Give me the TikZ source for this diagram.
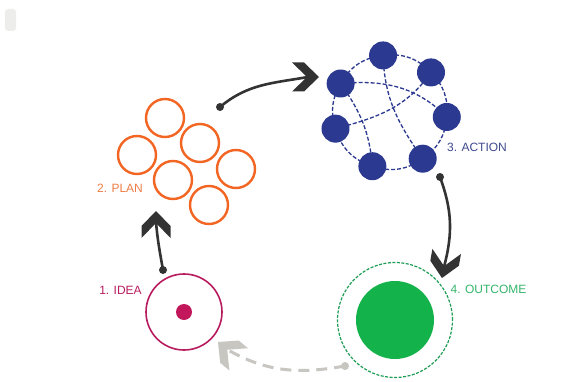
\documentclass[tikz,border=0pt]{standalone}
\usepackage{fontspec}
\setmainfont{Liberation Sans}
\usetikzlibrary{calc,backgrounds}
\definecolor{plan}{HTML}{F26522}
\definecolor{plantxt}{HTML}{EE7D45}
\definecolor{act}{HTML}{2B3990}
\definecolor{acttxt}{HTML}{3F4A8F}
\definecolor{idea}{HTML}{B81C5E}
\definecolor{ideadot}{HTML}{C2185B}
\definecolor{outc}{HTML}{13B24A}
\definecolor{outline}{HTML}{1E9E55}
\definecolor{outtxt}{HTML}{35B56C}
\definecolor{arr}{HTML}{333333}
\definecolor{ret}{HTML}{C8C6C1}
\definecolor{tabc}{HTML}{EDEDEB}
\begin{document}
\begin{tikzpicture}[x=1pt,y=1pt,
 ringc/.style={circle, draw=plan, line width=2.4pt, minimum size=38pt, inner sep=0pt},
 bead/.style={circle, fill=act, minimum size=28pt, inner sep=0pt},
 link/.style={draw=act, line width=1.3pt, dash pattern=on 4pt off 2pt},
 lab/.style={font=\fontsize{12}{14}\selectfont, inner sep=0pt},
 dotn/.style={circle, fill=#1, minimum size=8pt, inner sep=0pt},
 flow/.style={draw=arr, line width=2.6pt},
 chev/.pic={\fill (0,0) -- (-15,14.5) -- (-27,14.5) -- (-12,0) -- (-27,-14.5) -- (-15,-14.5) -- cycle;}
]
\begin{scope}[on background layer]
\fill[white] (0,0) rectangle (586,381);
\end{scope}
\useasboundingbox (0,0) rectangle (586,381);
\fill[tabc, rounded corners=3pt] (5,350) rectangle (16,372);

% PLAN
\node[ringc] (p1) at (165,263) {};
\node[ringc] (p2) at (200,238) {};
\node[ringc] (p3) at (137,226) {};
\node[ringc] (p4) at (236,212) {};
\node[ringc] (p5) at (173,201) {};
\node[ringc] (p6) at (209,176) {};
\node[lab, text=plantxt] (lplan) at (120,193) {2. PLAN};

% ACTION
\coordinate (c) at (390,269);
\node[bead] (n1) at ([shift={(97:57)}]c) {};
\node[bead] (n2) at ([shift={(44:57)}]c) {};
\node[bead] (n4) at ([shift={(-5:57)}]c) {};
\node[bead] (n7) at ([shift={(-55:57)}]c) {};
\node[bead] (n6) at ([shift={(-108:57)}]c) {};
\node[bead] (n5) at ([shift={(-163:57)}]c) {};
\node[bead] (n3) at ([shift={(150:57)}]c) {};
\begin{scope}[on background layer]
\path[link] (n1.center) to[bend left=26.5] (n2.center);
\path[link] (n2.center) to[bend left=24.5] (n4.center);
\path[link] (n4.center) to[bend left=25] (n7.center);
\path[link] (n7.center) to[bend left=26.5] (n6.center);
\path[link] (n6.center) to[bend left=27.5] (n5.center);
\path[link] (n5.center) to[bend left=23.5] (n3.center);
\path[link] (n3.center) to[bend left=26.5] (n1.center);
\path[link] (n3.center) to[out=5, in=135] (n4.center);
\path[link] (n5.center) to[out=15, in=235] (n2.center);
\path[link] (n1.center) to[out=-88, in=125] (n7.center);
\path[link] (n3.center) to[out=-55, in=95] (n6.center);
\end{scope}
\node[lab, text=acttxt] (lact) at (477,234) {3. ACTION};

% OUTCOME
\node[circle, draw=outline, line width=1.2pt, dash pattern=on 3pt off 1.5pt, minimum size=115pt, inner sep=0pt] (outr) at (395,61) {};
\node[circle, fill=outc, minimum size=78pt, inner sep=0pt] (outd) at (395,61) {};
\node[lab, text=outtxt] (lout) at (488.5,92) {4. OUTCOME};

% IDEA
\node[circle, draw=idea, line width=1.6pt, minimum size=76pt, inner sep=0pt] (idear) at (184,69) {};
\node[circle, fill=ideadot, minimum size=16pt, inner sep=0pt] (idead) at (184,69) {};
\node[lab, text=idea] (lidea) at (120.5,91) {1. IDEA};

% ARROWS
\coordinate (t1) at (319,304);
\coordinate (k1) at ($(t1)+(180:11)$);
\node[dotn=arr] (d1) at (220,274) {};
\path[flow] (d1.center) to[out=40, in=190] (k1);
\pic[fill=arr] at (t1) {chev};

\coordinate (t2) at (442,103);
\coordinate (k2) at ($(t2)+(80:11)$);
\node[dotn=arr] (d2) at (440,204) {};
\path[flow] (d2.center) to[out=-70, in=75] (k2);
\pic[fill=arr, rotate=-100] at (t2) {chev};

\coordinate (t3) at (218,39);
\coordinate (k3) at ($(t3)+(-40:11)$);
\node[dotn=ret] (d3) at (345,15) {};
\path[draw=ret, line width=3pt, dash pattern=on 11pt off 7pt] (d3.center) to[out=190, in=-30] (k3);
\pic[fill=ret, rotate=140] at (t3) {chev};

\coordinate (t4) at (156,170);
\coordinate (k4) at ($(t4)+(-90:11)$);
\node[dotn=arr] (d4) at (163,111) {};
\path[flow] (d4.center) to[out=100, in=-85] (k4);
\pic[fill=arr, rotate=90] at (t4) {chev};
\end{tikzpicture}
\end{document}
